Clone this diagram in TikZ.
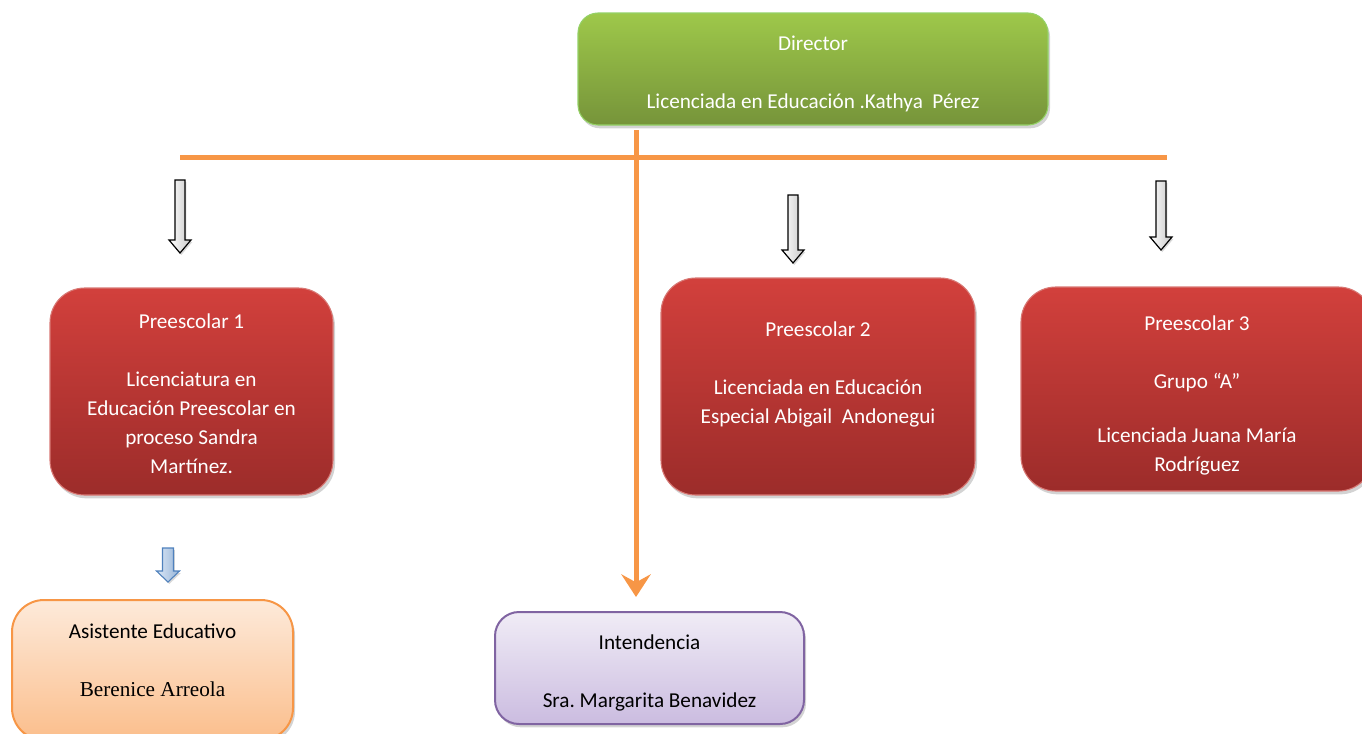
\documentclass[tikz,border=0pt]{standalone}
\usepackage{fontspec}
\setmainfont{Carlito}
\newfontfamily\timesfam{Liberation Serif}
\usetikzlibrary{arrows.meta,positioning,shadows}
\definecolor{orgline}{HTML}{F79646}
\newcommand\liftline[1]{\rule{0pt}{#1}}
\frenchspacing
\tikzset{
    box/.style={rounded corners=#1,align=center,inner sep=0pt,
        font=\fontsize{15.9}{21.75}\selectfont,
        drop shadow={opacity=0.35,shadow xshift=1.5pt,shadow yshift=-2.5pt}},
    dirbox/.style={box=15pt,draw=green!40!olive!60!white,line width=0.8pt,
        top color={rgb,255:red,158;green,200;blue,74},bottom color={rgb,255:red,118;green,148;blue,58},text=white},
    prebox/.style={box=26pt,draw={rgb,255:red,216;green,120;blue,116},line width=0.8pt,
        top color={rgb,255:red,210;green,64;blue,60},bottom color={rgb,255:red,156;green,44;blue,42},text=white},
    asibox/.style={box=24pt,draw=orgline,line width=1.5pt,
        top color={rgb,255:red,253;green,234;blue,218},bottom color={rgb,255:red,251;green,190;blue,140}},
    intbox/.style={box=18pt,draw={rgb,255:red,128;green,100;blue,162},line width=1.5pt,
        top color={rgb,255:red,240;green,236;blue,246},bottom color={rgb,255:red,203;green,188;blue,224}},
    bar/.style={orgline,line width=3.75pt},
    stem/.style={bar,-{Stealth[length=17pt,width=22pt,inset=6pt]}},
    hollow/.style={draw=black,line width=0.9pt,left color=white,right color=black!22,
        drop shadow={opacity=0.3,shadow xshift=1pt,shadow yshift=-1.5pt}},
    bluearr/.style={draw={rgb,255:red,79;green,129;blue,189},line width=0.8pt,
        left color={rgb,255:red,220;green,232;blue,246},right color={rgb,255:red,149;green,179;blue,215},
        drop shadow={opacity=0.3,shadow xshift=1pt,shadow yshift=-1.5pt}}
}

\begin{document}
\begin{tikzpicture}[x=0.75pt,y=-0.75pt]
    \clip (0,0) rectangle (1362,733);

    \node[dirbox,minimum width=352.5pt,minimum height=84pt] (director) at (813,69)
        {\liftline{18pt}Director\\ \strut\\ Licenciada en Educación .Kathya\ \ Pérez};

    \node[prebox,minimum width=212.25pt,minimum height=155.25pt] (pre1) at (191.5,391.5)
        {\liftline{15pt}Preescolar 1\\ \strut\\ Licenciatura en\\ Educación Preescolar en\\ proceso Sandra\\ Martínez.};
    \node[prebox,minimum width=235.5pt,minimum height=162.75pt] (pre2) at (818,386.5)
        {\liftline{19pt}Preescolar 2\\ \strut\\ Licenciada en Educación\\ Especial Abigail\ \ Andonegui\\ \strut};
    \node[prebox,minimum width=264pt,minimum height=153pt] (pre3) at (1197,389)
        {\liftline{20pt}Preescolar 3\\ \strut\\ Grupo “A”\\[-3pt] \strut\\ Licenciada Juana María\\ Rodríguez};

    \node[asibox,minimum width=210.75pt,minimum height=105pt] (asist) at (152.5,670)
        {\liftline{24pt}Asistente Educativo\\ \strut\\ {\timesfam Berenice Arreola}\\ \strut};
    \node[intbox,minimum width=231.75pt,minimum height=84pt] (intend) at (649.5,668)
        {\liftline{18pt}Intendencia\\ \strut\\ Sra. Margarita Benavidez};

    % orange lines
    \coordinate (barL) at (180,157);
    \coordinate (barR) at (1167,157);
    \coordinate (stemtop) at (636,130);
    \coordinate (stemend) at (636,597);
    \draw[bar] (barL) -- (barR);
    \draw[stem] (stemtop) -- (stemend);

    % block arrows
    \foreach \ax/\ya/\yb in {180/180/253, 793/195/263, 1161/181/250}
        \path[hollow] (\ax-5,\ya) -- (\ax+5,\ya) -- (\ax+5,\yb-13) -- (\ax+11,\yb-13)
            -- (\ax,\yb) -- (\ax-11,\yb-13) -- (\ax-5,\yb-13) -- cycle;
    \path[bluearr] (162.5,548) -- (173.5,548) -- (173.5,571) -- (179.5,571)
        -- (168,582) -- (156.5,571) -- (162.5,571) -- cycle;
\end{tikzpicture}
\end{document}
